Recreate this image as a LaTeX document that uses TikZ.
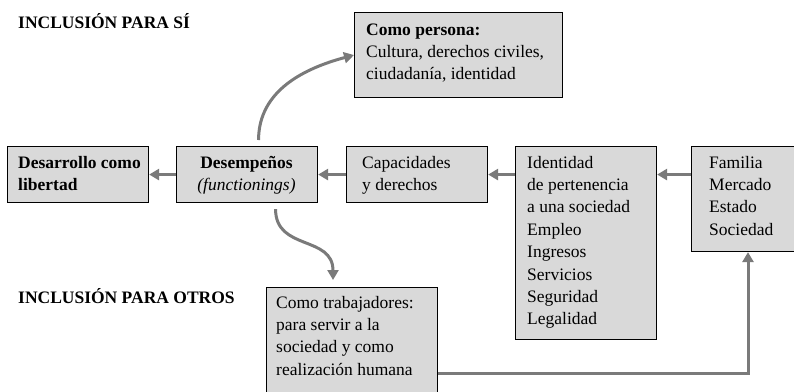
\documentclass[tikz,border=0pt]{standalone}
\usepackage{fontspec}
\setmainfont{Liberation Serif}
\usetikzlibrary{arrows.meta}
\definecolor{boxgray}{RGB}{217,217,217}
\definecolor{arrgray}{RGB}{122,122,122}
\newcommand\bodyfont{\fontsize{17.5}{22.4}\selectfont}
\newcommand\ls[1]{\begin{tabular}[t]{@{}l@{}}#1\end{tabular}}
\newcommand\cs[1]{\begin{tabular}[t]{@{}c@{}}#1\end{tabular}}
\tikzset{
  box/.style={draw=black, line width=1.1pt, fill=boxgray, inner sep=0pt, anchor=north west},
  txt/.style={inner sep=0pt, anchor=base west, font=\bodyfont},
  ctxt/.style={inner sep=0pt, anchor=base, font=\bodyfont},
  head/.style={inner sep=0pt, anchor=base west, font=\bodyfont\bfseries},
  arr/.style={draw=arrgray, line width=3pt, -{Triangle[length=10pt,width=11pt]}},
}
\begin{document}
\begin{tikzpicture}[x=1pt,y=-1pt]
\useasboundingbox (0,0) rectangle (794,391);
\clip (0,0) rectangle (794,391);
% headings
\node[head] (h1) at (18,28) {INCLUSIÓN PARA SÍ};
\node[head] (h2) at (18,303) {INCLUSIÓN PARA OTROS};
% boxes
\node[box, minimum width=208pt, minimum height=85pt] (per) at (354,12) {};
\node[box, minimum width=141pt, minimum height=56pt] (dl) at (7,146) {};
\node[box, minimum width=141pt, minimum height=56pt] (dsp) at (176,146) {};
\node[box, minimum width=141pt, minimum height=56pt] (cap) at (346,146) {};
\node[box, minimum width=141pt, minimum height=193pt] (id) at (515,146) {};
\node[box, minimum width=130pt, minimum height=105pt] (fam) at (691,146) {};
\node[box, minimum width=171pt, minimum height=130pt] (trab) at (266,287) {};
% texts
\node[txt] (perT) at (366,35) {\ls{\textbf{Como persona:}\\Cultura, derechos civiles,\\ciudadanía, identidad}};
\node[txt] (dlT) at (18,168) {\ls{\textbf{Desarrollo como}\\\textbf{libertad}}};
\node[ctxt] (dspT) at (246.5,168) {\cs{\textbf{Desempeños}\\\textit{(functionings)}}};
\node[txt] (capT) at (362,168) {\ls{Capacidades\\y derechos}};
\node[txt] (idT) at (527,168) {\ls{Identidad\\de pertenencia\\a una sociedad\\Empleo\\Ingresos\\Servicios\\Seguridad\\Legalidad}};
\node[txt] (famT) at (709,168) {\ls{Familia\\Mercado\\Estado\\Sociedad}};
\node[txt] (trabT) at (276,308) {\ls{Como trabajadores:\\para servir a la\\sociedad y como\\realización humana}};
% connectors
\draw[arr] (dsp.west) -- (dl.east);
\draw[arr] (cap.west) -- (dsp.east);
\draw[arr] (id.west |- cap.east) -- (cap.east);
\draw[arr] (fam.west |- cap.east) -- (id.east |- cap.east);
\draw[arr] ([xshift=11.5pt,yshift=6pt]dsp.north) to[out=90,in=195] (per.west);
\coordinate (trabin) at ([xshift=67pt,yshift=7pt]trab.north west);
\draw[arr] ([xshift=28.5pt,yshift=-6pt]dsp.south) .. controls +(0,42) and +(0,-45) .. (trabin);
\draw[arr] ([yshift=-86pt]trab.north east) -| ([xshift=57pt]fam.south west);
\end{tikzpicture}
\end{document}
